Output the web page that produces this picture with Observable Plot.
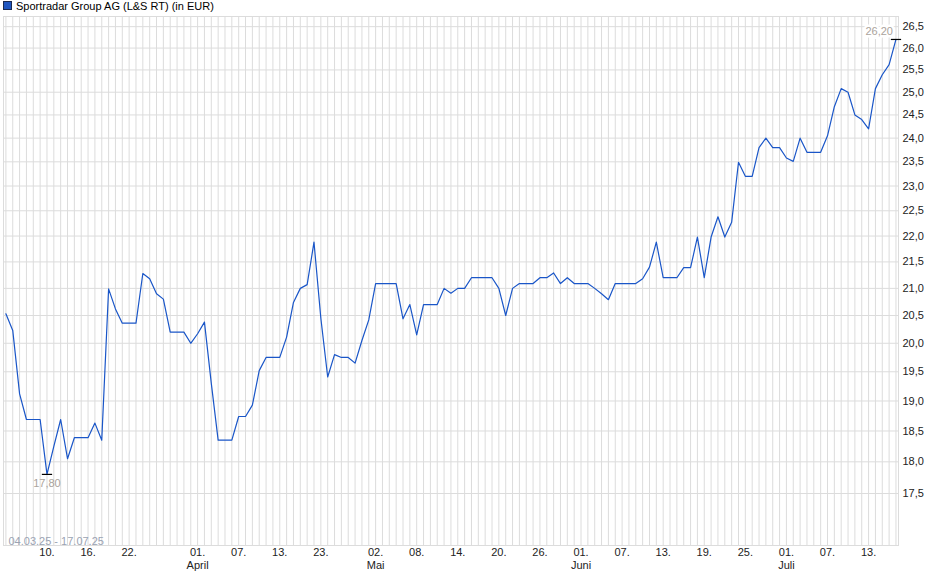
<!DOCTYPE html>
<html>
<head>
<meta charset="utf-8">
<script src="https://cdn.jsdelivr.net/npm/d3@7"></script>
<script src="https://cdn.jsdelivr.net/npm/@observablehq/plot@0.6"></script>
<style>
  body { margin: 0; background: #fff; font-family: "Liberation Sans", Arial, sans-serif; }
  #wrap { position: relative; width: 940px; height: 579px; }
  #title { position: absolute; left: 3px; top: 0px; font-size: 11px; line-height: 13px; color: #000; z-index: 2; white-space: nowrap; }
  #title .sw { display: inline-block; width: 7px; height: 7px; background: #1f56c0; border: 1px solid #1a2a50; margin-right: 4px; vertical-align: -0px; }
  #chart { position: absolute; left: 0; top: 0; }
</style>
</head>
<body>
<div id="wrap">
  <div id="title"><span class="sw"></span>Sportradar Group AG (L&amp;S RT) (in EUR)</div>
  <div id="chart"></div>
</div>
<script>
// Trading days (L&S incl. weekends; closed over Easter and on 1 May)
const closedDays = ["2025-04-18", "2025-04-19", "2025-04-20", "2025-04-21", "2025-05-01"];
const fmt = d3.timeFormat("%Y-%m-%d");
const dates = d3.timeDay.range(new Date(2025, 2, 4), new Date(2025, 6, 18))
  .map(fmt).filter(d => !closedDays.includes(d));

const prices = [
  20.53, 20.23, 19.12, 18.69, 18.69, 18.69, 17.80, 18.25, 18.69, 18.05,
  18.39, 18.39, 18.39, 18.63, 18.35, 20.99, 20.62, 20.36, 20.36, 20.36,
  21.28, 21.18, 20.90, 20.80, 20.20, 20.20, 20.20, 20.00, 20.17, 20.38,
  19.30, 18.35, 18.35, 18.35, 18.74, 18.74, 18.93, 19.52, 19.75, 19.75,
  19.75, 20.11, 20.74, 21.00, 21.07, 21.88, 20.45, 19.41, 19.80, 19.75,
  19.75, 19.65, 20.05, 20.42, 21.09, 21.09, 21.09, 21.09, 20.44, 20.70,
  20.15, 20.70, 20.70, 20.70, 21.00, 20.91, 21.00, 21.00, 21.20, 21.20,
  21.20, 21.20, 21.00, 20.50, 21.00, 21.09, 21.09, 21.09, 21.20, 21.20,
  21.29, 21.09, 21.20, 21.09, 21.09, 21.09, 21.00, 20.90, 20.79, 21.09,
  21.09, 21.09, 21.09, 21.18, 21.40, 21.88, 21.20, 21.20, 21.20, 21.39,
  21.39, 21.98, 21.20, 21.98, 22.38, 21.98, 22.27, 23.49, 23.20, 23.20,
  23.80, 24.00, 23.80, 23.80, 23.58, 23.51, 24.00, 23.70, 23.70, 23.70,
  24.05, 24.68, 25.08, 25.00, 24.50, 24.40, 24.20, 25.08, 25.39, 25.62,
  26.20
];

const tickDates = ["2025-03-10", "2025-03-16", "2025-03-22", "2025-04-01", "2025-04-07", "2025-04-13",
  "2025-04-23", "2025-05-02", "2025-05-08", "2025-05-14", "2025-05-20", "2025-05-26",
  "2025-06-01", "2025-06-07", "2025-06-13", "2025-06-19", "2025-06-25", "2025-07-01",
  "2025-07-07", "2025-07-13"];
const tickLabels = ["10.", "16.", "22.", "01.", "07.", "13.", "23.", "02.", "08.", "14.",
  "20.", "26.", "01.", "07.", "13.", "19.", "25.", "01.", "07.", "13."];
const monthDates = ["2025-04-01", "2025-05-02", "2025-06-01", "2025-07-01"];
const monthLabels = ["April", "Mai", "Juni", "Juli"];
const yTicks = [17.5, 18, 18.5, 19, 19.5, 20, 20.5, 21, 21.5, 22, 22.5, 23, 23.5, 24, 24.5, 25, 25.5, 26, 26.5];
const rangeLabel = "04.03.25 - 17.07.25";

const rows = prices.map((p, i) => ({i, date: dates[i], price: p}));
const tickIdx = tickDates.map(d => dates.indexOf(d));
const tickMap = new Map(tickIdx.map((t, k) => [t, tickLabels[k]]));
const monthIdx = monthDates.map(d => dates.indexOf(d));
const monthMap = new Map(monthIdx.map((t, k) => [t, monthLabels[k]]));

const minRow = rows.reduce((a, b) => (b.price < a.price ? b : a));
const lastRow = rows[rows.length - 1];
const numFmt = v => v.toFixed(2).replace(".", ",");

const gridColor = "#dcdcdc";
const lineColor = "#1a56c8";

const chart = Plot.plot({
  width: 940,
  height: 579,
  marginTop: 16,
  marginBottom: 34,
  marginLeft: 3,
  marginRight: 42,
  style: {fontFamily: "'Liberation Sans', Arial, sans-serif", fontSize: "11px", background: "transparent"},
  x: {type: "linear", domain: [-0.35, rows.length - 1 + 0.37], axis: null, label: null},
  y: {type: "log", domain: [16.71, 26.74], axis: null, label: null},
  marks: [
    Plot.gridX(d3.range(rows.length), {stroke: gridColor, strokeOpacity: 1, strokeWidth: 1}),
    Plot.gridY(yTicks, {stroke: gridColor, strokeOpacity: 1, strokeWidth: 1}),
    Plot.frame({stroke: gridColor, strokeWidth: 1}),
    Plot.axisY(yTicks, {anchor: "right", label: null, tickSize: 0, tickPadding: 4, fill: "#222",
      tickFormat: d => d.toFixed(1).replace(".", ",")}),
    Plot.axisX(tickIdx, {anchor: "bottom", label: null, tickSize: 0, tickPadding: 3, fill: "#222",
      tickFormat: d => tickMap.get(d)}),
    Plot.axisX(monthIdx, {anchor: "bottom", label: null, tickSize: 0, tickPadding: 16, fill: "#222",
      tickFormat: d => monthMap.get(d)}),
    Plot.text([rangeLabel], {frameAnchor: "bottom-left", dx: 5, dy: -1, fill: "#9aa3b3", fontSize: 11}),
    Plot.line(rows, {x: "i", y: "price", stroke: lineColor, strokeWidth: 1.2}),
    // min marker
    Plot.link([minRow], {x1: d => d.i - 0.75, x2: d => d.i + 0.75, y1: "price", y2: "price", stroke: "#000", strokeWidth: 1.2}),
    Plot.text([minRow], {x: "i", y: "price", text: d => numFmt(d.price), dy: 5, lineAnchor: "top", fill: "#aaa39c", fontSize: 11}),
    // max / last marker
    Plot.link([lastRow], {x1: d => d.i - 0.75, x2: d => d.i + 0.75, y1: "price", y2: "price", stroke: "#000", strokeWidth: 1.2}),
    Plot.text([lastRow], {x: "i", y: "price", text: d => numFmt(d.price), dx: -3, dy: -8, textAnchor: "end",
      fill: "#aaa39c", stroke: "#fff", strokeWidth: 5, strokeLinejoin: "miter", paintOrder: "stroke", fontSize: 11})
  ]
});
document.getElementById("chart").appendChild(chart);
</script>
</body>
</html>
